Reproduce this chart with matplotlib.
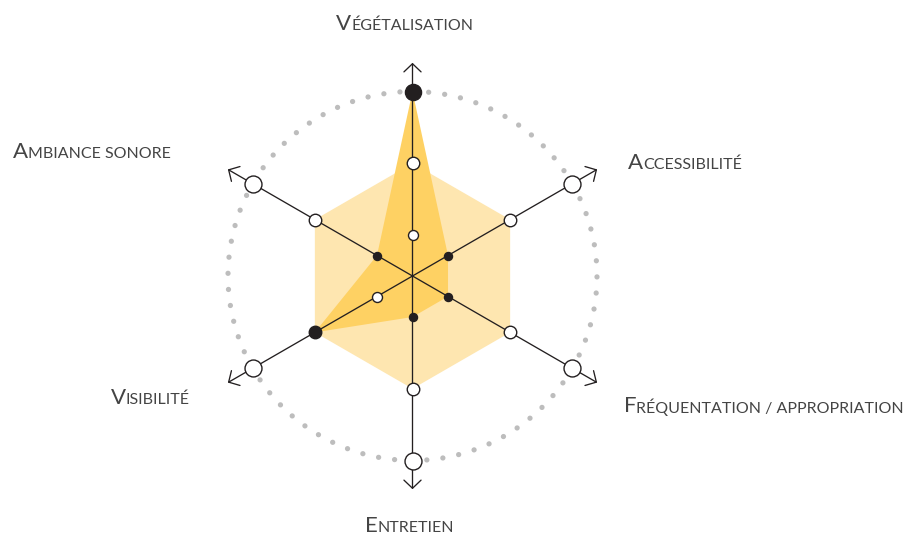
import matplotlib

matplotlib.use("Agg")
import matplotlib.pyplot as plt  # noqa: E402
import numpy as np  # noqa: E402

# Six criteria, clockwise from the top, and the level scored on each (1-3).
CRITERIA = [
    "Végétalisation",
    "Accessibilité",
    "Fréquentation / appropriation",
    "Entretien",
    "Visibilité",
    "Ambiance sonore",
]
LEVELS = [1, 2, 3]
SCORES = [3, 1, 1, 1, 2, 1]
REFERENCE_LEVEL = 2

# Label anchors in pixels (left edge, baseline).
LABEL_POS = {
    "Végétalisation": (336, 29.5),
    "Accessibilité": (628, 168.5),
    "Fréquentation / appropriation": (623.5, 412.5),
    "Entretien": (365, 531.5),
    "Visibilité": (110.7, 404.3),
    "Ambiance sonore": (13.3, 158.3),
}

INK = "#231f20"
TEXT = "#444444"
DOT = "#bdbdbd"
HEX_FILL = "#fee6b0"
DATA_FILL = "#fed163"

W, H = 913, 541
CX, CY, R_AX = 412.5, 276, 230      # chart centre and axes half-size, px
PX_PER_LEVEL = 71.75
R_MIN = 3 / 7                        # level value at the centre
R_MAX = R_MIN + R_AX / PX_PER_LEVEL
R_TIP = 3.4                          # arrow tips, just past the outer ring

# marker sizes (pt) per level: (hollow, filled)
MARKER = {1: (7.2, 5.8), 2: (9.0, 9.0), 3: (12.2, 11.6)}

plt.rcParams.update({
    "font.family": ["Lato", "DejaVu Sans"],
    "lines.dash_capstyle": "round",
})

fig = plt.figure(figsize=(W / 100, H / 100), dpi=100)
ax = fig.add_axes(
    [(CX - R_AX) / W, (H - CY - R_AX) / H, 2 * R_AX / W, 2 * R_AX / H],
    projection="polar",
)
ax.set_theta_zero_location("N")
ax.set_theta_direction(-1)
ax.set_ylim(R_MIN, R_MAX)
ax.set_xticks([])
ax.set_yticks([LEVELS[-1]])
ax.set_yticklabels([])
ax.yaxis.grid(True, color=DOT, linewidth=3.8, linestyle=(0, (0.01, 3.05)))
ax.spines["polar"].set_visible(False)
ax.patch.set_alpha(0)

theta = np.deg2rad(np.arange(len(CRITERIA)) * 360 / len(CRITERIA))

ax.fill(theta, [REFERENCE_LEVEL] * len(theta), color=HEX_FILL, lw=0, zorder=1)
ax.fill(theta, SCORES, color=DATA_FILL, lw=0, zorder=2)

for t in theta:
    ax.annotate(
        "", xy=(t, R_TIP), xytext=(t, R_MIN), annotation_clip=False, zorder=3,
        arrowprops=dict(arrowstyle="->,head_length=0.42,head_width=0.44",
                        mutation_scale=14, color=INK, lw=0.95,
                        shrinkA=0, shrinkB=0),
    )

for level in LEVELS:
    hollow, filled = MARKER[level]
    for t, score in zip(theta, SCORES):
        chosen = score == level
        ax.plot([t], [level], marker="o", linestyle="none",
                markersize=filled if chosen else hollow,
                markerfacecolor=INK if chosen else "white",
                markeredgecolor=INK, markeredgewidth=1.0,
                zorder=4, clip_on=False)

# small caps: a full-size initial followed by the rest in smaller capitals
BIG, SMALL = 16, 11.5
for name in CRITERIA:
    x, y = LABEL_POS[name]
    head = fig.text(x / W, 1 - y / H, name[0], fontsize=BIG, color=TEXT,
                    ha="left", va="baseline")
    ax.annotate(name[1:].upper(), xy=(1, 1 - y / H),
                xycoords=(head, "figure fraction"), fontsize=SMALL,
                color=TEXT, ha="left", va="baseline",
                annotation_clip=False)

fig.savefig("out.png", dpi=100, facecolor="white")
